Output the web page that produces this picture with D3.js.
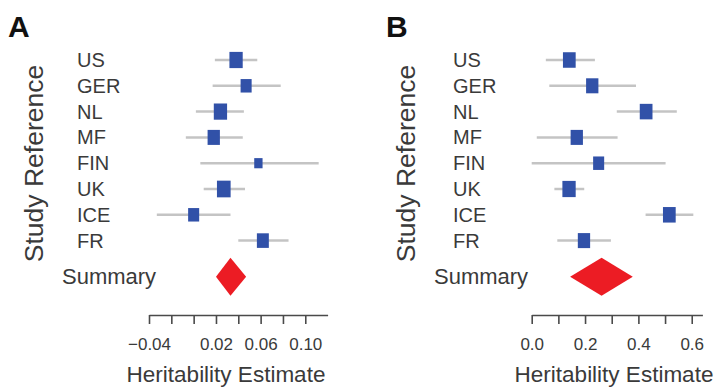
<!DOCTYPE html>
<html>
<head>
<meta charset="utf-8">
<script src="https://cdn.jsdelivr.net/npm/d3@7"></script>
<style>
  body { margin: 0; background: #fff; }
  text { font-family: "Liberation Sans", Arial, sans-serif; }
</style>
</head>
<body>
<div id="chart"></div>
<script>
var width = 716;
var height = 389;

// study rows (same order in both panels)
var studies = ["US", "GER", "NL", "MF", "FIN", "UK", "ICE", "FR"];

// panel A
var estA = [0.038, 0.047, 0.024, 0.018, 0.058, 0.027, 0.000, 0.062];
var lowA = [0.019, 0.017, 0.002, -0.007, 0.006, 0.009, -0.033, 0.040];
var highA = [0.057, 0.078, 0.045, 0.044, 0.112, 0.046, 0.033, 0.085];
var weightA = [0.84, 0.58, 0.84, 0.72, 0.33, 0.89, 0.58, 0.68];
var summaryA = [0.020, 0.033, 0.047]; // low, est, high
var ticksA = [-0.04, -0.02, 0.00, 0.02, 0.04, 0.06, 0.08, 0.10];
var tickLabelsA = ["-0.04", "0.02", "0.06", "0.10"];

// panel B
var estB = [0.141, 0.227, 0.429, 0.169, 0.251, 0.140, 0.516, 0.196];
var lowB = [0.053, 0.066, 0.319, 0.019, 0.000, 0.085, 0.427, 0.096];
var highB = [0.237, 0.391, 0.544, 0.322, 0.502, 0.197, 0.606, 0.297];
var weightB = [0.77, 0.72, 0.77, 0.72, 0.58, 0.84, 0.77, 0.72];
var summaryB = [0.144, 0.262, 0.379];
var ticksB = [0.0, 0.1, 0.2, 0.3, 0.4, 0.5, 0.6];
var tickLabelsB = ["0.0", "0.2", "0.4", "0.6"];

var svg = d3.select("#chart")
  .append("svg")
  .attr("width", width)
  .attr("height", height);

// rows: studies 0..7, summary a bit lower
var y = d3.scaleLinear().domain([0, 1]).range([60, 85.8]);
var summaryRow = 8.4;

var boxSize = d3.scaleSqrt().domain([0, 1]).range([0, 14.5]);

function drawPanel(p) {
  var g = svg.append("g");

  var rows = studies.map(function(s, i) {
    return { name: s, est: p.est[i], lo: p.low[i], hi: p.high[i], w: p.weight[i], row: i };
  });

  // panel letter
  g.append("text")
    .attr("x", p.letterX)
    .attr("y", 37)
    .attr("font-size", 30)
    .attr("font-weight", "bold")
    .attr("fill", "#111")
    .text(p.letter);

  // y title
  g.append("text")
    .attr("transform", "translate(" + p.yTitleX + ",163.5) rotate(-90)")
    .attr("text-anchor", "middle")
    .attr("dominant-baseline", "central")
    .attr("font-size", 26.5)
    .attr("fill", "#3a3a3a")
    .text("Study Reference");

  // row labels
  g.selectAll(".lab")
    .data(rows)
    .enter()
    .append("text")
    .attr("class", "lab")
    .attr("x", p.labelX)
    .attr("y", function(d) { return y(d.row); })
    .attr("dominant-baseline", "central")
    .attr("font-size", 20)
    .attr("fill", "#3a3a3a")
    .text(function(d) { return d.name; });

  g.append("text")
    .attr("x", p.summaryLabelX)
    .attr("y", y(summaryRow))
    .attr("dominant-baseline", "central")
    .attr("font-size", 22)
    .attr("fill", "#3a3a3a")
    .text("Summary");

  // CI lines
  g.selectAll(".ci")
    .data(rows)
    .enter()
    .append("line")
    .attr("class", "ci")
    .attr("x1", function(d) { return p.x(d.lo); })
    .attr("x2", function(d) { return p.x(d.hi); })
    .attr("y1", function(d) { return y(d.row); })
    .attr("y2", function(d) { return y(d.row); })
    .attr("stroke", "#c4c4c4")
    .attr("stroke-width", 2.5);

  // boxes (slightly taller than wide, like the original)
  g.selectAll(".box")
    .data(rows)
    .enter()
    .append("rect")
    .attr("class", "box")
    .attr("width", function(d) { return boxSize(d.w); })
    .attr("height", function(d) { return boxSize(d.w) * 1.22; })
    .attr("x", function(d) { return p.x(d.est) - boxSize(d.w) / 2; })
    .attr("y", function(d) { return y(d.row) - boxSize(d.w) * 0.61; })
    .attr("fill", "#3151a8");

  // summary diamond
  var sy = y(summaryRow);
  var dh = 19;
  g.append("path")
    .attr("d", d3.line()([
      [p.x(p.summary[0]), sy],
      [p.x(p.summary[1]), sy - dh],
      [p.x(p.summary[2]), sy],
      [p.x(p.summary[1]), sy + dh]
    ]) + "Z")
    .attr("fill", "#ec1c24");

  // x axis, only some ticks get a label
  var axis = d3.axisBottom(p.x)
    .tickValues(p.ticks)
    .tickSize(9)
    .tickSizeOuter(0)
    .tickPadding(14)
    .tickFormat(function(d) {
      var s = p.fmt(d).replace("\u2212", "-");
      return p.tickLabels.indexOf(s) >= 0 ? s.replace("-", "\u2212") : "";
    });

  var ax = g.append("g")
    .attr("transform", "translate(0,315)")
    .call(axis);
  ax.select(".domain").attr("stroke", "#4a4a4a").attr("stroke-width", 1.6);
  ax.selectAll(".tick line").attr("stroke", "#4a4a4a").attr("stroke-width", 1.6);
  ax.selectAll(".tick text")
    .attr("font-size", 17)
    .attr("font-family", "'Liberation Sans', Arial, sans-serif")
    .attr("fill", "#3a3a3a");

  g.append("text")
    .attr("x", p.xTitleX)
    .attr("y", 382)
    .attr("text-anchor", "middle")
    .attr("font-size", 22.5)
    .attr("fill", "#3a3a3a")
    .text("Heritability Estimate");
}

drawPanel({
  letter: "A",
  est: estA, low: lowA, high: highA, weight: weightA,
  summary: summaryA,
  ticks: ticksA, tickLabels: tickLabelsA,
  fmt: d3.format(".2f"),
  x: d3.scaleLinear().domain([-0.04, 0.12]).range([149, 327.6]),
  letterX: 8, yTitleX: 34, labelX: 77, summaryLabelX: 62, xTitleX: 226
});

drawPanel({
  letter: "B",
  est: estB, low: lowB, high: highB, weight: weightB,
  summary: summaryB,
  ticks: ticksB, tickLabels: tickLabelsB,
  fmt: d3.format(".1f"),
  x: d3.scaleLinear().domain([0, 0.64]).range([531.7, 702.4]),
  letterX: 386, yTitleX: 406, labelX: 453, summaryLabelX: 434, xTitleX: 614
});
</script>
</body>
</html>
